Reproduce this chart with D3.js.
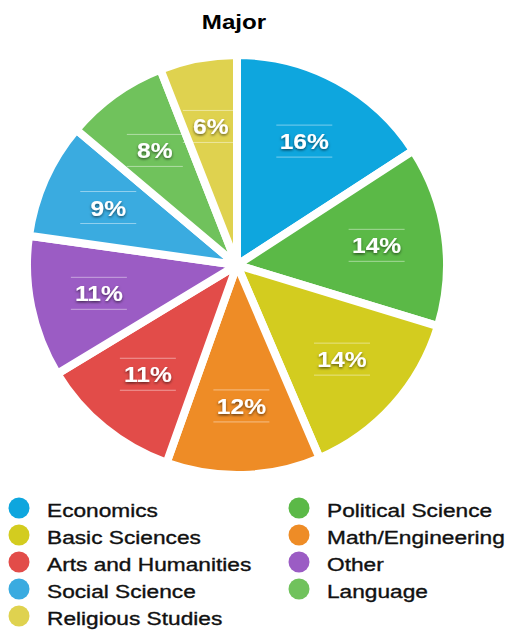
<!DOCTYPE html>
<html>
<head>
<meta charset="utf-8">
<script src="https://cdn.jsdelivr.net/npm/d3@7"></script>
<style>
  body { margin: 0; background: #fff; }
  svg { display: block; }
</style>
</head>
<body>
<div id="chart"></div>
<script>
// Data (clockwise from 12 o'clock)
const majors = [
    "Economics",
    "Political Science",
    "Basic Sciences",
    "Math/Engineering",
    "Arts and Humanities",
    "Other",
    "Social Science",
    "Language",
    "Religious Studies"
];
const shares = [16, 14, 14, 12, 11, 11, 9, 8, 6];
const sliceColors = [
    "#0ea6de", "#5bb947", "#d3cc1f", "#ee8c26", "#e24c49",
    "#9b5cc4", "#3aabe0", "#70c25c", "#dfd24f"
];

const width = 512, height = 630;
const cx = 237, cy = 265, radius = 210;
const textStretch = 1.24;

const svg = d3.select("#chart")
    .append("svg")
    .attr("width", width)
    .attr("height", height);

// drop shadow for the percent labels
const defs = svg.append("defs");
const shadow = defs.append("filter")
    .attr("id", "shadow")
    .attr("x", "-20%").attr("y", "-40%")
    .attr("width", "140%").attr("height", "180%");
shadow.append("feDropShadow")
    .attr("dx", 0).attr("dy", 1.5)
    .attr("stdDeviation", 1.2)
    .attr("flood-color", "#000")
    .attr("flood-opacity", 0.55);

// Title
svg.append("text")
    .attr("transform", `translate(234, 28.5) scale(${textStretch},1)`)
    .attr("text-anchor", "middle")
    .style("font-family", "'Liberation Sans', Arial, sans-serif")
    .style("font-size", "19.5px")
    .style("font-weight", "bold")
    .style("fill", "#000")
    .text("Major");

const data = majors.map((m, i) => ({ major: m, value: shares[i], color: sliceColors[i] }));

const pie = d3.pie()
    .sort(null)
    .value(d => d.value);

const arc = d3.arc()
    .innerRadius(0)
    .outerRadius(radius);

const labelArc = d3.arc()
    .innerRadius(141)
    .outerRadius(141);

const g = svg.append("g")
    .attr("transform", `translate(${cx}, ${cy})`);

const arcs = pie(data);

g.selectAll("path.slice")
    .data(arcs)
    .enter()
    .append("path")
    .attr("class", "slice")
    .attr("d", arc)
    .attr("fill", d => d.data.color)
    .attr("stroke", "#fff")
    .attr("stroke-width", 8)
    .attr("stroke-linejoin", "round");

// labels with thin lines above and below
const labels = g.selectAll("g.label")
    .data(arcs)
    .enter()
    .append("g")
    .attr("class", "label")
    .attr("transform", d => `translate(${labelArc.centroid(d)})`);

labels.append("line")
    .attr("x1", -28).attr("x2", 28)
    .attr("y1", -16).attr("y2", -16)
    .attr("stroke", "#fff")
    .attr("stroke-opacity", 0.45)
    .attr("stroke-width", 1);

labels.append("line")
    .attr("x1", -28).attr("x2", 28)
    .attr("y1", 16).attr("y2", 16)
    .attr("stroke", "#fff")
    .attr("stroke-opacity", 0.45)
    .attr("stroke-width", 1);

labels.append("text")
    .attr("transform", "translate(0, 8) scale(1.12,1)")
    .attr("text-anchor", "middle")
    .attr("filter", "url(#shadow)")
    .style("font-family", "'Liberation Sans', Arial, sans-serif")
    .style("font-size", "22px")
    .style("font-weight", "bold")
    .style("fill", "#fff")
    .text(d => d.data.value + "%");

// Legend: two columns, filled row by row
const legend = svg.append("g");
const colX = [19, 299];
const rowY0 = 508, rowStep = 27;

const items = legend.selectAll("g.item")
    .data(data)
    .enter()
    .append("g")
    .attr("class", "item")
    .attr("transform", (d, i) => `translate(${colX[i % 2]}, ${rowY0 + Math.floor(i / 2) * rowStep})`);

items.append("circle")
    .attr("r", 10.5)
    .attr("fill", d => d.color);

items.append("text")
    .attr("transform", `translate(28, 8.5) scale(${textStretch},1)`)
    .style("font-family", "'Liberation Sans', Arial, sans-serif")
    .style("font-size", "18.3px")
    .style("fill", "#111")
    .style("stroke", "#111")
    .style("stroke-width", 0.35)
    .text(d => d.major);
</script>
</body>
</html>
